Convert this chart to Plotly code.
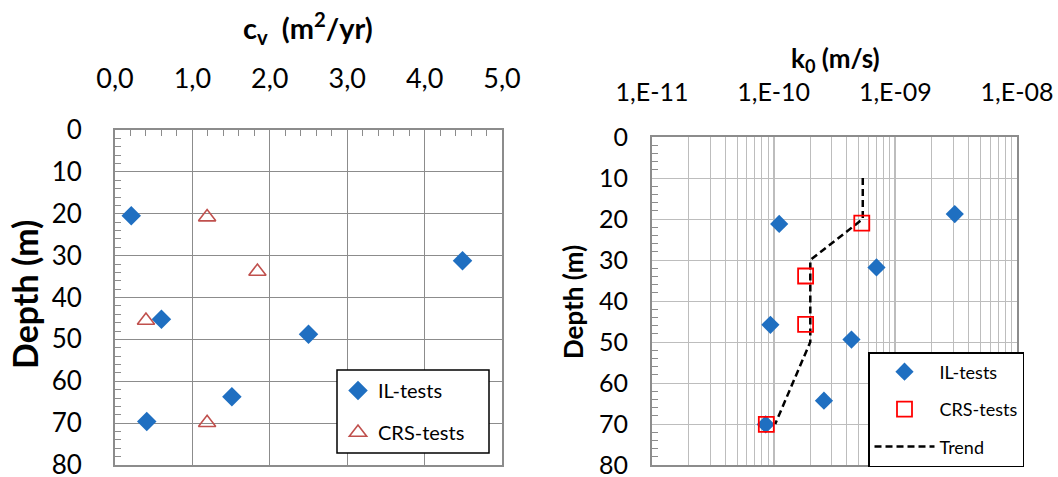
import plotly.graph_objects as go

# ---- data ----
depth_ticks = [0, 10, 20, 30, 40, 50, 60, 70, 80]
cv_ticks = [0, 1, 2, 3, 4, 5]
k_ticks = [1e-11, 1e-10, 1e-9, 1e-8]
k_ticklabels = ["1,E-11", "1,E-10", "1,E-09", "1,E-08"]

il_cv = [0.21, 4.49, 0.60, 2.50, 1.51, 0.41]
il_cv_depth = [20.5, 31.2, 45.2, 48.8, 63.7, 69.6]
crs_cv = [1.19, 1.84, 0.40, 1.19]
crs_cv_depth = [20.8, 33.8, 45.5, 69.9]

il_k = [1.11e-10, 3.08e-9, 7.0e-10, 9.4e-11, 4.36e-10, 2.59e-10, 8.6e-11]
il_k_depth = [21.2, 18.8, 31.8, 45.8, 49.4, 64.3, 70.1]
crs_k = [5.3e-10, 1.83e-10, 1.83e-10, 8.7e-11]
crs_k_depth = [21.0, 33.9, 45.7, 70.1]
trend_k = [5.4e-10, 5.4e-10, 2.0e-10, 2.0e-10, 1.03e-10]
trend_depth = [10, 20, 30, 50, 70]

k_minor = [m * 10.0 ** e for e in (-11, -10, -9) for m in range(2, 10)]

W, H = 1058, 477
FONT = "Lato"
BLUE = "#1f6fc1"
TRI_RED = "#c0504d"
SQ_RED = "#ff0000"
GRID_L = "#8c8c8c"
GRID_R = "#bdbdbd"
FRAME = "#8c8c8c"

def px(x):
    return x / W

def py(y):
    return 1 - y / H

fig = go.Figure()

# left panel
fig.add_trace(go.Scatter(x=il_cv, y=il_cv_depth, mode="markers", name="IL-tests",
                         marker=dict(symbol="diamond", size=15, color=BLUE),
                         xaxis="x", yaxis="y", legend="legend", legendgroup="a"))
fig.add_trace(go.Scatter(x=crs_cv, y=crs_cv_depth, mode="markers", name="CRS-tests",
                         marker=dict(symbol="triangle-up-open", size=15, color=TRI_RED,
                                     line=dict(width=1.6, color=TRI_RED)),
                         xaxis="x", yaxis="y", legend="legend", legendgroup="b"))

# right panel
fig.add_trace(go.Scatter(x=trend_k, y=trend_depth, mode="lines", name="Trend",
                         line=dict(color="black", width=2.5, dash="7px,4px"),
                         xaxis="x2", yaxis="y2", legend="legend2", legendgroup="f",
                         legendrank=3))
fig.add_trace(go.Scatter(x=il_k, y=il_k_depth, mode="markers", name="IL-tests",
                         marker=dict(symbol="diamond", size=14, color=BLUE),
                         xaxis="x2", yaxis="y2", legend="legend2", legendgroup="d",
                         legendrank=1))
fig.add_trace(go.Scatter(x=crs_k, y=crs_k_depth, mode="markers", name="CRS-tests",
                         marker=dict(symbol="square-open", size=15, color=SQ_RED,
                                     line=dict(width=1.8, color=SQ_RED)),
                         xaxis="x2", yaxis="y2", legend="legend2", legendgroup="e",
                         legendrank=2))

def y_axis(domain_top, anchor, gridcolor, standoff, size):
    return dict(domain=[py(465), py(domain_top)], anchor=anchor,
                range=[80, 0], tickmode="linear", tick0=0, dtick=10,
                showline=True, mirror=True, linewidth=2, linecolor=FRAME,
                ticks="", zeroline=False, automargin=False,
                ticklabeloverflow="allow", ticklabelstandoff=standoff,
                showgrid=True, gridcolor=gridcolor, gridwidth=1.4,
                tickfont=dict(size=size, color="black", family=FONT),
                minor=dict(dtick=2, tick0=0, ticks="inside", ticklen=6,
                           tickcolor=FRAME, tickwidth=1.3, showgrid=False))

fig.update_layout(
    width=W, height=H,
    margin=dict(l=0, r=0, t=0, b=0),
    paper_bgcolor="white", plot_bgcolor="white",
    separators=",.",
    font=dict(family=FONT, color="black"),
    xaxis=dict(domain=[px(115), px(502)], side="top", range=[0, 5], anchor="y",
               tickmode="linear", tick0=0, dtick=1, tickformat=".1f",
               showgrid=True, gridcolor=GRID_L, gridwidth=1.4,
               showline=True, mirror=True, linewidth=2, linecolor=FRAME,
               ticks="", zeroline=False, automargin=False,
               ticklabeloverflow="allow", ticklabelstandoff=29,
               tickfont=dict(size=27, color="black", family=FONT),
               minor=dict(dtick=0.2, tick0=0, ticks="inside", ticklen=6,
                          tickcolor=FRAME, tickwidth=1.3, showgrid=False)),
    yaxis=y_axis(130, "x", GRID_L, 26, 26),
    xaxis2=dict(domain=[px(652), px(1017)], side="top", type="log", range=[-11, -8],
                anchor="y2", tickmode="array", tickvals=k_ticks, ticktext=k_ticklabels,
                showgrid=True, gridcolor=GRID_R, gridwidth=1.5,
                showline=True, mirror=True, linewidth=2, linecolor=FRAME,
                ticks="", zeroline=False, automargin=False,
                ticklabeloverflow="allow", ticklabelstandoff=24,
                tickfont=dict(size=25, color="black", family=FONT),
                minor=dict(tickmode="array", tickvals=k_minor, showgrid=True,
                           gridcolor=GRID_R, gridwidth=1.3, ticks="")),
    yaxis2=y_axis(137, "x2", GRID_R, 17, 25),
    legend=dict(x=px(338), y=py(371), xanchor="left", yanchor="top",
                bgcolor="rgba(0,0,0,0)", borderwidth=0,
                font=dict(size=20, family=FONT, color="black"),
                tracegroupgap=13, itemwidth=30),
    legend2=dict(x=px(868), y=py(352), xanchor="left", yanchor="top",
                 bgcolor="white", bordercolor="black", borderwidth=1.5,
                 font=dict(size=18, family=FONT, color="black"),
                 tracegroupgap=11, itemwidth=60),
    showlegend=True,
)

# left legend frame (wider than the auto-sized legend box)
fig.add_shape(type="rect", xref="paper", yref="paper",
              x0=px(337), x1=px(489), y0=py(453), y1=py(370),
              line=dict(color="black", width=1.5), fillcolor="white", layer="above")

fig.add_annotation(x=px(308), y=py(28), xref="paper", yref="paper", showarrow=False,
                   text="<b>c<sub>v</sub>  (m<sup>2</sup>/yr)</b>",
                   font=dict(size=29, family=FONT, color="black"),
                   xanchor="center", yanchor="middle")
fig.add_annotation(x=px(835), y=py(60), xref="paper", yref="paper", showarrow=False,
                   text="<b>k<sub>0</sub> (m/s)</b>",
                   font=dict(size=26, family=FONT, color="black"),
                   xanchor="center", yanchor="middle")
fig.add_annotation(x=px(24), y=py(295), xref="paper", yref="paper", showarrow=False,
                   text="<b>Depth (m)</b>", textangle=-90,
                   font=dict(size=34, family=FONT, color="black"),
                   xanchor="center", yanchor="middle")
fig.add_annotation(x=px(573), y=py(302), xref="paper", yref="paper", showarrow=False,
                   text="<b>Depth (m)</b>", textangle=-90,
                   font=dict(size=26, family=FONT, color="black"),
                   xanchor="center", yanchor="middle")

fig.write_html("out.html",
               config={"displayModeBar": False},
               post_script="document.body.style.margin='0';"
                           "document.body.style.overflow='hidden';")
